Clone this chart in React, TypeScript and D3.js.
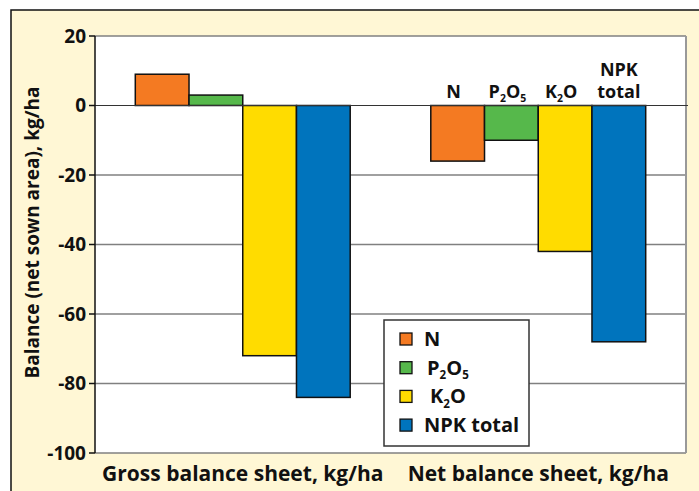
import React from 'react';
import * as d3 from 'd3';

const categories = ['Gross balance sheet, kg/ha', 'Net balance sheet, kg/ha'];
const seriesNames = ['N', 'P2O5', 'K2O', 'NPK total'];
const seriesColors = ['#F47A22', '#56B84B', '#FFDC00', '#0074BD'];
const grossValues = [9, 3, -72, -84];
const netValues = [-16, -10, -42, -68];
const yTicks = [20, 0, -20, -40, -60, -80, -100];

// chemical labels with subscripts
const labelParts: Record<string, { t: string; sub?: boolean }[]> = {
  N: [{ t: 'N' }],
  P2O5: [{ t: 'P' }, { t: '2', sub: true }, { t: 'O' }, { t: '5', sub: true }],
  K2O: [{ t: 'K' }, { t: '2', sub: true }, { t: 'O' }],
  'NPK total': [{ t: 'NPK total' }],
};

const W = 699;
const H = 491;
const margin = { left: 95, top: 36, right: 13, bottom: 38 };
const font = '"Open Sans", Lato, sans-serif';

const Chem = ({ name, size }: { name: string; size: number }) => (
  <>
    {labelParts[name].map((p, i) =>
      p.sub ? (
        <tspan key={i} fontSize={size * 0.58} dy={size * 0.22}>{p.t}</tspan>
      ) : (
        <tspan key={i} dy={i > 0 && labelParts[name][i - 1].sub ? -size * 0.22 : 0}>{p.t}</tspan>
      )
    )}
  </>
);

export default function App() {
  const x0 = d3.scaleBand().domain(categories).range([margin.left, W - margin.right]).padding(0);
  const x1 = d3.scaleBand().domain(seriesNames).range([0, x0.bandwidth()]).paddingInner(0).paddingOuter(0.75);
  const y = d3.scaleLinear().domain([-100, 20]).range([H - margin.bottom, margin.top]);

  const valuesByCat = [grossValues, netValues];
  const plotL = margin.left;
  const plotR = W - margin.right;

  const legendX = 384;
  const legendY = 320;

  return (
    <svg width={W} height={H} style={{ position: 'absolute', left: 0, top: 0, fontFamily: font }}>
      <rect x={0} y={0} width={W} height={H} fill="#fff" />
      <rect x={11} y={10} width={W + 10} height={H + 10} fill="#FFF7D5" stroke="#111" strokeWidth={1.5} />
      <rect x={plotL} y={y(20)} width={plotR - plotL} height={y(-100) - y(20)} fill="#fff" />

      {yTicks.filter(t => t !== 0).map(t => (
        <line key={t} x1={plotL} x2={plotR} y1={y(t)} y2={y(t)} stroke="#808080" strokeWidth={1.5} />
      ))}
      <line x1={plotR} x2={plotR} y1={y(20)} y2={y(-100)} stroke="#999" strokeWidth={2} />

      {categories.map((c, ci) =>
        seriesNames.map((s, si) => {
          const v = valuesByCat[ci][si];
          const bx = (x0(c) ?? 0) + (x1(s) ?? 0);
          return (
            <rect
              key={c + s}
              x={bx}
              y={y(Math.max(0, v))}
              width={x1.bandwidth()}
              height={Math.abs(y(v) - y(0))}
              fill={seriesColors[si]}
              stroke="#111"
              strokeWidth={1.5}
            />
          );
        })
      )}

      <line x1={plotL} x2={plotR + 2} y1={y(0)} y2={y(0)} stroke="#333" strokeWidth={1.2} />
      <line x1={plotL} x2={plotL} y1={y(20)} y2={y(-100)} stroke="#111" strokeWidth={1.5} />
      {yTicks.map(t => (
        <g key={t}>
          <line x1={plotL - 6} x2={plotL} y1={y(t)} y2={y(t)} stroke="#111" strokeWidth={1.5} />
          <text x={plotL - 9} y={y(t)} dy="0.36em" textAnchor="end" fontSize={19} fontWeight={700} fill="#111">
            {t}
          </text>
        </g>
      ))}

      <text
        transform={`translate(39, ${(y(20) + y(-100)) / 2 - 12}) rotate(-90)`}
        textAnchor="middle"
        fontSize={19}
        fontWeight={700}
        fill="#111"
      >
        Balance (net sown area), kg/ha
      </text>

      {categories.map(c => (
        <text key={c} x={(x0(c) ?? 0) + x0.bandwidth() / 2} y={481} textAnchor="middle" fontSize={21} fontWeight={700} fill="#111">
          {c}
        </text>
      ))}

      {/* labels above the net bars */}
      {seriesNames.map(s => {
        const cx = (x0(categories[1]) ?? 0) + (x1(s) ?? 0) + x1.bandwidth() / 2 - 4;
        if (s === 'NPK total') {
          return (
            <text key={s} x={cx + 4} textAnchor="middle" fontSize={18} fontWeight={700} fill="#111">
              <tspan x={cx + 4} y={76}>NPK</tspan>
              <tspan x={cx + 4} y={98}>total</tspan>
            </text>
          );
        }
        return (
          <text key={s} x={cx} y={98} textAnchor="middle" fontSize={18} fontWeight={700} fill="#111">
            <Chem name={s} size={18} />
          </text>
        );
      })}

      <g>
        <rect x={legendX} y={legendY} width={145} height={126} fill="#fff" stroke="#333" strokeWidth={1.5} />
        {seriesNames.map((s, i) => {
          const cy = legendY + 19 + i * 28.7;
          return (
            <g key={s}>
              <rect x={legendX + 16} y={cy - 6} width={12} height={12} fill={seriesColors[i]} stroke="#111" strokeWidth={1.3} />
              <text x={legendX + 40 + (s === 'P2O5' ? 3 : s === 'K2O' ? 6 : 0)} y={cy + 7} fontSize={20} fontWeight={700} fill="#111">
                <Chem name={s} size={20} />
              </text>
            </g>
          );
        })}
      </g>
    </svg>
  );
}
